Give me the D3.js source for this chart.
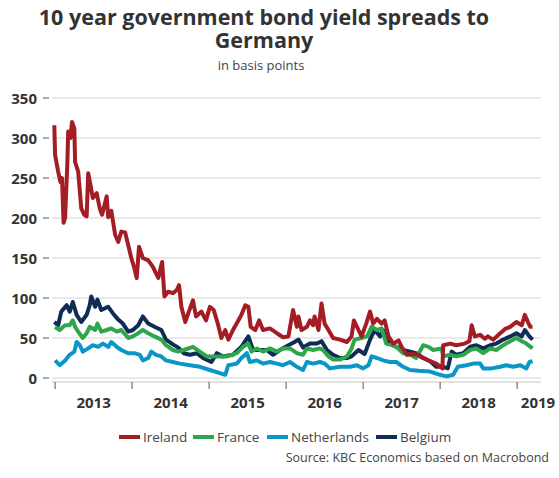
<!DOCTYPE html>
<html>
<head>
<meta charset="utf-8">
<script src="https://cdn.jsdelivr.net/npm/d3@7"></script>
<style>
  body { margin: 0; background: #fff; }
  svg { font-family: "Open Sans", "Noto Sans", sans-serif; }
  .grid line { stroke: #d4d4d4; stroke-width: 1; }
  .ylab, .xlab { font-weight: bold; font-size: 15px; fill: #333; }
</style>
</head>
<body>
<div id="main"></div>
<script>
var ctx = {
    w: 559,
    h: 478,
};

// [decimal year, basis points]
var ireland = [[2012.99,316],[2013.00,279],[2013.04,258],[2013.07,245],[2013.09,250],[2013.11,194],[2013.13,200],[2013.16,270],[2013.17,308],[2013.20,300],[2013.22,320],[2013.25,312],[2013.26,270],[2013.30,258],[2013.34,212],[2013.38,204],[2013.41,202],[2013.43,256],[2013.46,241],[2013.49,225],[2013.54,231],[2013.58,212],[2013.61,204],[2013.67,227],[2013.69,201],[2013.73,209],[2013.78,179],[2013.82,170],[2013.86,183],[2013.91,182],[2013.95,166],[2013.99,150],[2014.03,137],[2014.06,125],[2014.09,164],[2014.14,150],[2014.21,147],[2014.27,139],[2014.34,125],[2014.39,145],[2014.42,102],[2014.47,108],[2014.53,106],[2014.58,110],[2014.61,116],[2014.64,89],[2014.69,70],[2014.73,81],[2014.79,97],[2014.83,77],[2014.90,83],[2014.96,72],[2015.01,89],[2015.06,85],[2015.11,69],[2015.16,50],[2015.21,60],[2015.25,48],[2015.31,60],[2015.38,72],[2015.42,79],[2015.47,91],[2015.51,89],[2015.54,64],[2015.60,60],[2015.65,72],[2015.70,60],[2015.79,62],[2015.88,56],[2015.96,51],[2016.03,52],[2016.09,85],[2016.14,64],[2016.16,77],[2016.20,60],[2016.27,64],[2016.31,72],[2016.35,66],[2016.37,77],[2016.42,60],[2016.46,93],[2016.50,68],[2016.55,60],[2016.61,50],[2016.70,48],[2016.79,45],[2016.85,52],[2016.88,72],[2016.94,60],[2016.98,52],[2017.04,68],[2017.09,83],[2017.13,68],[2017.18,74],[2017.24,68],[2017.28,72],[2017.33,52],[2017.39,43],[2017.46,47],[2017.50,39],[2017.57,29],[2017.63,30],[2017.72,29],[2017.78,25],[2017.87,21],[2017.95,18],[2018.03,12],[2018.04,41],[2018.13,43],[2018.21,41],[2018.32,43],[2018.38,46],[2018.41,66],[2018.45,52],[2018.52,54],[2018.58,49],[2018.62,52],[2018.69,48],[2018.78,56],[2018.84,61],[2018.91,64],[2018.99,70],[2019.06,66],[2019.10,79],[2019.14,70],[2019.17,64],[2019.20,64]];

var france = [[2013.00,64],[2013.06,60],[2013.13,66],[2013.19,66],[2013.23,72],[2013.26,64],[2013.30,58],[2013.36,50],[2013.41,56],[2013.45,64],[2013.52,60],[2013.55,68],[2013.60,58],[2013.67,60],[2013.73,62],[2013.80,58],[2013.86,60],[2013.95,50],[2014.01,52],[2014.08,56],[2014.14,60],[2014.21,56],[2014.29,52],[2014.38,48],[2014.44,41],[2014.53,35],[2014.60,33],[2014.67,35],[2014.79,39],[2014.88,33],[2014.97,27],[2015.10,27],[2015.23,27],[2015.36,31],[2015.44,39],[2015.51,43],[2015.55,33],[2015.62,37],[2015.70,33],[2015.79,37],[2015.88,33],[2015.96,37],[2016.05,37],[2016.14,31],[2016.22,29],[2016.27,37],[2016.35,35],[2016.44,37],[2016.48,35],[2016.55,27],[2016.61,23],[2016.70,23],[2016.79,27],[2016.85,37],[2016.89,48],[2016.98,50],[2017.05,52],[2017.11,64],[2017.18,60],[2017.24,62],[2017.30,43],[2017.37,41],[2017.43,39],[2017.52,31],[2017.61,29],[2017.69,25],[2017.78,41],[2017.85,39],[2017.91,35],[2018.02,37],[2018.04,27],[2018.13,29],[2018.21,27],[2018.30,29],[2018.39,35],[2018.47,37],[2018.56,31],[2018.65,37],[2018.73,35],[2018.82,41],[2018.91,46],[2018.99,50],[2019.06,46],[2019.12,43],[2019.20,37]];

var netherlands = [[2013.00,22],[2013.06,16],[2013.13,22],[2013.19,29],[2013.25,33],[2013.28,45],[2013.32,41],[2013.36,33],[2013.43,37],[2013.49,41],[2013.56,39],[2013.62,43],[2013.69,39],[2013.73,45],[2013.80,39],[2013.86,35],[2013.95,31],[2014.03,31],[2014.10,29],[2014.14,22],[2014.21,25],[2014.25,33],[2014.31,29],[2014.38,27],[2014.44,22],[2014.53,20],[2014.62,18],[2014.75,16],[2014.88,14],[2015.01,10],[2015.14,6],[2015.21,4],[2015.25,16],[2015.36,18],[2015.42,25],[2015.49,31],[2015.53,20],[2015.62,22],[2015.70,18],[2015.79,20],[2015.88,18],[2015.96,16],[2016.05,20],[2016.14,14],[2016.22,10],[2016.27,20],[2016.35,18],[2016.44,20],[2016.50,18],[2016.57,12],[2016.70,14],[2016.83,14],[2016.92,16],[2017.00,12],[2017.07,16],[2017.11,27],[2017.18,25],[2017.26,22],[2017.35,20],[2017.43,20],[2017.52,14],[2017.61,10],[2017.72,9],[2017.87,8],[2018.00,4],[2018.08,2],[2018.17,4],[2018.23,14],[2018.34,16],[2018.43,18],[2018.52,18],[2018.56,12],[2018.67,12],[2018.78,14],[2018.86,16],[2018.95,14],[2019.04,16],[2019.12,12],[2019.16,20],[2019.20,21]];

var belgium = [[2012.99,70],[2013.04,66],[2013.08,83],[2013.15,91],[2013.19,83],[2013.23,95],[2013.28,79],[2013.34,70],[2013.41,79],[2013.45,91],[2013.47,102],[2013.52,89],[2013.55,98],[2013.60,85],[2013.69,89],[2013.75,81],[2013.82,73],[2013.88,68],[2013.95,58],[2014.01,60],[2014.08,66],[2014.14,77],[2014.21,68],[2014.29,64],[2014.38,60],[2014.44,48],[2014.53,42],[2014.60,38],[2014.67,31],[2014.75,29],[2014.84,31],[2014.92,25],[2015.03,20],[2015.10,31],[2015.18,27],[2015.31,29],[2015.42,39],[2015.51,52],[2015.57,35],[2015.66,35],[2015.75,35],[2015.83,29],[2015.92,35],[2016.03,41],[2016.11,45],[2016.16,48],[2016.22,38],[2016.31,43],[2016.40,43],[2016.46,46],[2016.53,35],[2016.61,29],[2016.70,25],[2016.79,25],[2016.85,27],[2016.94,35],[2017.02,30],[2017.09,48],[2017.15,60],[2017.22,52],[2017.26,60],[2017.30,48],[2017.37,43],[2017.43,39],[2017.52,35],[2017.61,33],[2017.72,30],[2017.74,27],[2017.87,21],[2017.95,14],[2018.04,14],[2018.10,12],[2018.15,33],[2018.21,29],[2018.30,31],[2018.39,39],[2018.47,41],[2018.56,37],[2018.65,41],[2018.73,43],[2018.82,48],[2018.91,52],[2018.99,56],[2019.06,52],[2019.10,60],[2019.16,52],[2019.20,48]];

var seriesNames = ["Ireland", "France", "Netherlands", "Belgium"];
var seriesColors = ["#a51c24", "#2ea64c", "#0a96c6", "#0e2c55"];
var yTicks = [0, 50, 100, 150, 200, 250, 300, 350];
var years = [2013, 2014, 2015, 2016, 2017, 2018, 2019];
var xDomain = [2012.96, 2019.31];
var titleLines = ["10 year government bond yield spreads to", "Germany"];

var createViz = function(){
    var svgEl = d3.select("#main").append("svg")
        .attr("width", ctx.w)
        .attr("height", ctx.h);

    var x = d3.scaleLinear().domain(xDomain).range([52, 541]);
    var y = d3.scaleLinear().domain([0, 350]).range([378, 98]);

    // title (one text, two lines) + subtitle
    var title = svgEl.append("text")
        .attr("text-anchor", "middle").attr("fill", "#333")
        .style("font-size", "21.5px").style("font-weight", "bold");
    title.selectAll("tspan")
        .data(titleLines)
        .enter()
        .append("tspan")
        .attr("x", 264)
        .attr("y", function(d, i){ return 25 + i * 23; })
        .text(function(d){ return d; });
    svgEl.append("text").attr("x", 261).attr("y", 70)
        .attr("text-anchor", "middle").attr("fill", "#444")
        .style("font-size", "13px")
        .text("in basis points");

    // gridlines + y labels
    var grid = svgEl.append("g").attr("class", "grid");
    grid.selectAll("line.g")
        .data(yTicks)
        .enter()
        .append("line")
        .attr("x1", 52).attr("x2", 541)
        .attr("y1", function(d){ return y(d); })
        .attr("y2", function(d){ return y(d); });
    grid.selectAll("line.t")
        .data(yTicks)
        .enter()
        .append("line")
        .style("stroke", "#555")
        .attr("x1", 43).attr("x2", 49)
        .attr("y1", function(d){ return y(d); })
        .attr("y2", function(d){ return y(d); });
    svgEl.selectAll("text.ylab")
        .data(yTicks)
        .enter()
        .append("text")
        .attr("class", "ylab")
        .attr("x", 37)
        .attr("y", function(d){ return y(d) + 5.5; })
        .attr("text-anchor", "end")
        .text(function(d){ return d; });

    // x axis line, ticks + labels centred in each year
    svgEl.append("line")
        .attr("x1", 52).attr("x2", 541)
        .attr("y1", 382).attr("y2", 382)
        .style("stroke", "#c4c4c4");
    svgEl.selectAll("line.xt")
        .data(years)
        .enter()
        .append("line")
        .attr("x1", function(d){ return x(d); })
        .attr("x2", function(d){ return x(d); })
        .attr("y1", 382).attr("y2", 389)
        .style("stroke", "#555");
    svgEl.selectAll("text.xlab")
        .data(years)
        .enter()
        .append("text")
        .attr("class", "xlab")
        .attr("x", function(d){ return Math.min(x(d + 0.5), ctx.w - 21); })
        .attr("y", 408)
        .attr("text-anchor", "middle")
        .text(function(d){ return d; });

    // lines
    var line = d3.line()
        .x(function(d){ return x(d[0]); })
        .y(function(d){ return y(d[1]); });
    var data = [ireland, france, netherlands, belgium];
    var lineG = svgEl.append("g").attr("id", "lines");
    [2, 3, 1, 0].forEach(function(i){
        lineG.append("path")
            .attr("d", line(data[i]))
            .attr("fill", "none")
            .attr("stroke", seriesColors[i])
            .attr("stroke-width", 4)
            .attr("stroke-linejoin", "round");
    });

    // legend
    var legX = [119, 193, 267, 376];
    var leg = svgEl.append("g").attr("id", "legend");
    seriesNames.forEach(function(n, i){
        leg.append("line")
            .attr("x1", legX[i]).attr("x2", legX[i] + 21)
            .attr("y1", 437).attr("y2", 437)
            .attr("stroke", seriesColors[i])
            .attr("stroke-width", 4);
        leg.append("text")
            .attr("x", legX[i] + 24).attr("y", 441.5)
            .attr("fill", "#444")
            .style("font-size", "13.5px")
            .text(n);
    });

    svgEl.append("text").attr("x", 549).attr("y", 462)
        .attr("text-anchor", "end").attr("fill", "#444")
        .style("font-size", "12.5px")
        .text("Source: KBC Economics based on Macrobond");
};

createViz();
</script>
</body>
</html>
